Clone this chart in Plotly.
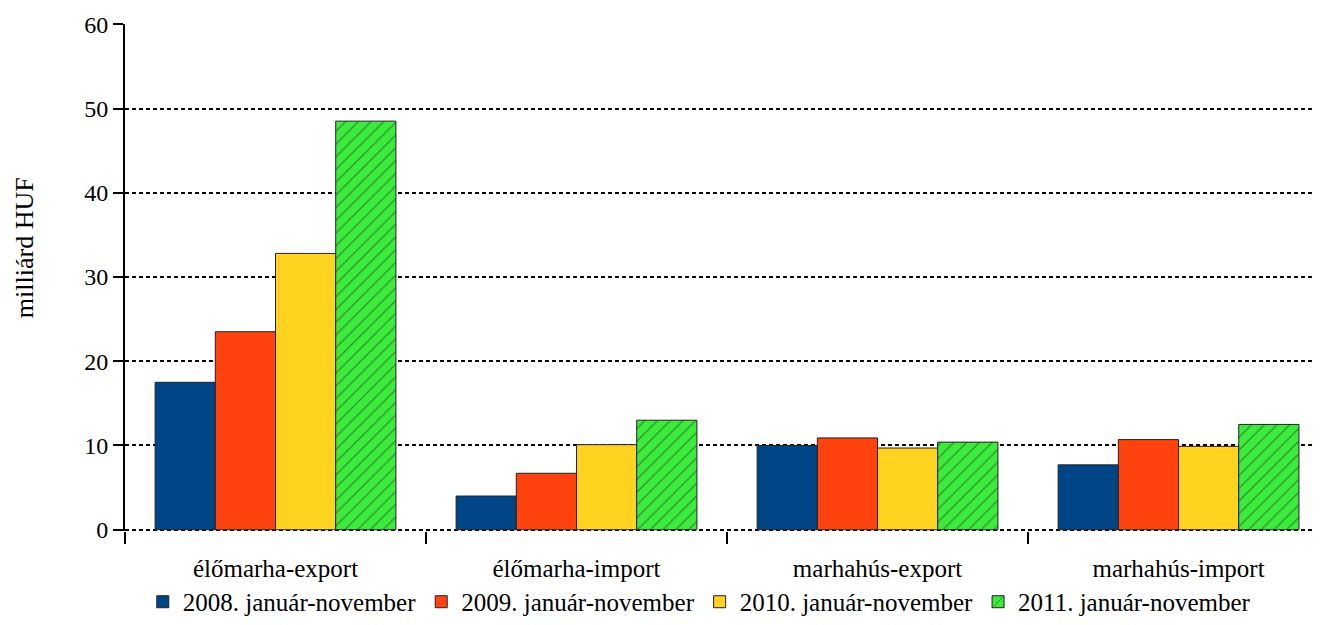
import plotly.graph_objects as go

categories = ["élőmarha-export", "élőmarha-import", "marhahús-export", "marhahús-import"]
series_names = [
    "2008. január-november",
    "2009. január-november",
    "2010. január-november",
    "2011. január-november",
]
values_2008 = [17.5, 4.0, 10.0, 7.7]
values_2009 = [23.5, 6.7, 10.9, 10.7]
values_2010 = [32.8, 10.1, 9.7, 9.9]
values_2011 = [48.5, 13.0, 10.4, 12.5]
y_ticks = [0, 10, 20, 30, 40, 50, 60]

COLORS = ["#004586", "#FF420E", "#FFD320", "#3DEB3D"]
FONT = "Liberation Serif, Times New Roman, serif"

fig = go.Figure()
for name, vals, color in zip(series_names, [values_2008, values_2009, values_2010, values_2011], COLORS):
    hatched = name.startswith("2011")
    fig.add_bar(
        x=categories,
        y=vals,
        name=name,
        marker={
            "color": color,
            "line": {"color": "#222222", "width": 1},
            "pattern": {"shape": "/", "fgcolor": "#111111", "size": 9, "solidity": 0.12} if hatched else {},
        },
    )

# the page body has an 8px margin, so size and margins are trimmed to fit the window
fig.update_layout(
    width=1306,
    height=609,
    barmode="group",
    bargap=0.2,
    bargroupgap=0,
    paper_bgcolor="white",
    plot_bgcolor="white",
    font={"family": FONT, "size": 25, "color": "black"},
    margin={"l": 117, "r": 0, "t": 16, "b": 86, "autoexpand": False},
    showlegend=True,
    legend={
        "orientation": "h",
        "x": 0.483,
        "xanchor": "center",
        "y": -0.140,
        "yanchor": "middle",
        "font": {"size": 25},
        "itemwidth": 30,
        "bgcolor": "rgba(0,0,0,0)",
    },
)
fig.add_annotation(
    text="milliárd HUF",
    textangle=-90,
    xref="paper",
    yref="paper",
    x=-0.0849,
    y=0.558,
    xanchor="center",
    yanchor="middle",
    showarrow=False,
    font={"size": 26},
)
fig.update_xaxes(
    type="category",
    range=[-0.5, 3.45],
    tickson="boundaries",
    ticks="outside",
    ticklen=12,
    tickwidth=2,
    tickcolor="black",
    showgrid=False,
    showline=False,
    zeroline=False,
    ticklabelstandoff=20,
)
fig.update_yaxes(
    range=[-0.15, 60.03],
    tickvals=y_ticks,
    ticks="outside",
    ticklen=10,
    tickwidth=2,
    tickcolor="black",
    tickfont={"size": 24},
    showline=True,
    linecolor="black",
    linewidth=2,
    showgrid=True,
    gridcolor="black",
    gridwidth=2,
    griddash="4px,3px",
    zeroline=False,
)

fig.write_html("out.html")
